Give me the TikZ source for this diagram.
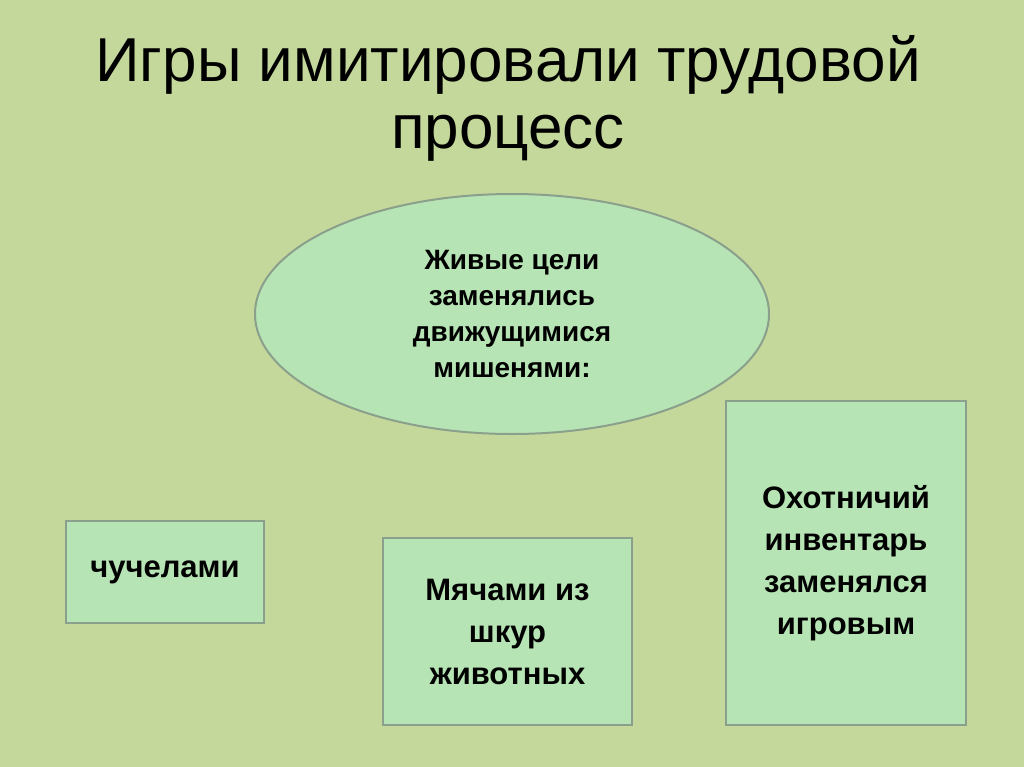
\documentclass[tikz,border=0pt]{standalone}
\usepackage{fontspec}
\setmainfont{Liberation Sans}
\usetikzlibrary{shapes.geometric}
\definecolor{bg}{RGB}{197,216,155}
\definecolor{boxfill}{RGB}{183,228,180}
\definecolor{boxline}{RGB}{138,160,140}
\tikzset{box/.style={draw=boxline,line width=2pt,fill=boxfill,align=center,font=\bfseries\fontsize{31}{42}\selectfont}}
\begin{document}
\begin{tikzpicture}[x=1pt,y=-1pt]
\fill[bg] (0,0) rectangle (1024,767);
\useasboundingbox (0,0) rectangle (1024,767);
\node[align=center,font=\fontsize{62}{67}\selectfont] (title) at (508,98) {Игры имитировали трудовой\\процесс};
\node[ellipse,draw=boxline,line width=2pt,fill=boxfill,minimum width=514,minimum height=240,align=center,font=\bfseries\fontsize{28}{36}\selectfont] (ell) at (512,314) {Живые цели\\заменялись\\движущимися\\мишенями:};
\node[box,minimum width=198,minimum height=102] (b1) at (165,572) {чучелами};
\node[box,minimum width=249,minimum height=187] (b2) at (507.5,631.5) {Мячами из\\шкур\\животных};
\node[box,minimum width=240,minimum height=324] (b3) at (846,563) {Охотничий\\инвентарь\\заменялся\\игровым};
\end{tikzpicture}
\end{document}
